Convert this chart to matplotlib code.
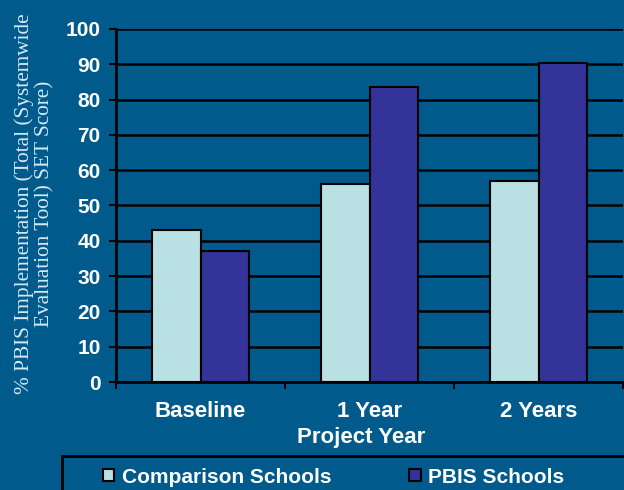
import matplotlib
matplotlib.use("Agg")
import matplotlib.pyplot as plt
from matplotlib.patches import Rectangle
import numpy as np

categories = ["Baseline", "1 Year", "2 Years"]
comparison = [43, 56, 57]
pbis = [37, 83.5, 90.5]
series_names = ["Comparison Schools", "PBIS Schools"]
yticks = [0, 10, 20, 30, 40, 50, 60, 70, 80, 90, 100]

BG = "#005B8C"
C1 = "#B9E0E3"
C2 = "#333399"
TXT = "white"

fig = plt.figure(figsize=(6.24, 4.9), dpi=100, facecolor=BG)
ax = fig.add_axes([116/624, 1-382/490, (623-116)/624, (382-29)/490])
ax.set_facecolor(BG)

x = np.arange(len(categories)) + 0.5
w = 0.287
b1 = ax.bar(x - w/2, comparison, w, color=C1, edgecolor="black", linewidth=1.5, zorder=3, label=series_names[0])
b2 = ax.bar(x + w/2, pbis, w, color=C2, edgecolor="black", linewidth=1.5, zorder=3, label=series_names[1])

ax.set_xlim(0, 3)
ax.set_ylim(0, 100)
ax.set_yticks(yticks)
ax.set_yticklabels([str(v) for v in yticks], fontsize=15, fontweight="bold", color=TXT, family="Liberation Sans")
ax.yaxis.grid(True, color="black", linewidth=1.8, zorder=0)
ax.set_axisbelow(True)
ax.tick_params(axis="y", direction="out", length=5, width=1.5, color="black", pad=6)

ax.set_xticks([0, 1, 2, 3])
ax.set_xticklabels([])
ax.tick_params(axis="x", which="major", direction="out", length=5, width=1.5, color="black")
ax.set_xticks(x, minor=True)
ax.set_xticklabels(categories, minor=True, fontsize=16, fontweight="bold", color=TXT, family="Liberation Sans")
ax.tick_params(axis="x", which="minor", length=0, pad=14)

for s in ["top", "right"]:
    ax.spines[s].set_visible(False)
ax.spines["left"].set_linewidth(2)
ax.spines["bottom"].set_linewidth(2)
ax.spines["left"].set_color("black")
ax.spines["bottom"].set_color("black")

fig.text(361/624, 1-437/490, "Project Year", ha="center", va="center", fontsize=16,
         fontweight="bold", color=TXT, family="Liberation Sans")

fig.text(34/624, 1-204/490, "% PBIS Implementation (Total (Systemwide\nEvaluation Tool) SET Score)",
         rotation=90, ha="center", va="center", multialignment="center", fontsize=15.3,
         color="#D5EAF5", family="Liberation Serif", linespacing=1.1)

fig.patches.append(Rectangle((62/624, -0.05), 1.0, 0.05 + 34/490, transform=fig.transFigure,
                             facecolor=BG, edgecolor="black", linewidth=2, figure=fig))

leg = fig.legend(handles=[b1, b2], labels=series_names, loc="center left",
                 bbox_to_anchor=(84/624, 1-477/490), ncol=2, frameon=False,
                 prop={"family": "Liberation Sans", "weight": "bold", "size": 15},
                 handlelength=0.55, handleheight=0.55, handletextpad=0.35, columnspacing=3.75)
for t in leg.get_texts():
    t.set_color(TXT)

fig.savefig("out.png", dpi=100, facecolor=BG)
